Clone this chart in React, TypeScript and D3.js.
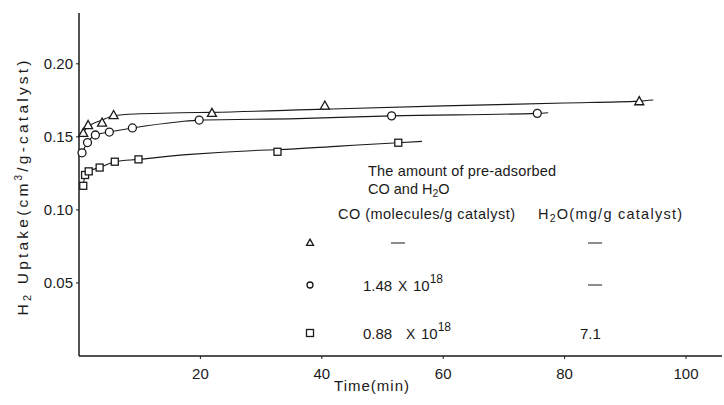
import React from "react";
import * as d3 from "d3";

// ---- data ----
const xTicks = [20, 40, 60, 80, 100];
const yTicks = [0.05, 0.1, 0.15, 0.2];
const yTickLabels = ["0.05", "0.10", "0.15", "0.20"];

// measured points (time min, uptake)
const triT = [0.7, 1.5, 3.8, 5.7, 21.9, 40.5, 92.3];
const triV = [0.1524, 0.1578, 0.1595, 0.1646, 0.1661, 0.1711, 0.1741];
const cirT = [0.5, 1.4, 2.7, 5.0, 8.8, 19.8, 51.5, 75.5];
const cirV = [0.1391, 0.1461, 0.1513, 0.1533, 0.1561, 0.1615, 0.1644, 0.1661];
const sqT = [0.7, 1.0, 1.6, 3.4, 5.9, 9.8, 32.7, 52.6];
const sqV = [0.1165, 0.1239, 0.1264, 0.129, 0.133, 0.1346, 0.1398, 0.146];

// hand-drawn fitted curves
const triCurveT = [0, 0.7, 1.5, 3.8, 5.7, 10, 16.9, 21.9, 40.5, 60, 80, 92.3, 94.6];
const triCurveV = [0.151, 0.1535, 0.157, 0.1615, 0.1645, 0.1658, 0.1665, 0.1668, 0.169, 0.1712, 0.1732, 0.1745, 0.1752];
const cirCurveT = [0.5, 1.4, 2.7, 5, 8.8, 16.6, 19.8, 36, 51.5, 75.5, 77.3];
const cirCurveV = [0.1391, 0.1461, 0.1513, 0.1533, 0.1561, 0.1604, 0.1615, 0.1625, 0.1644, 0.1661, 0.1665];
const sqCurveT = [0.7, 1.0, 1.6, 3.4, 5.9, 9.8, 18.3, 29.8, 32.7, 43, 52.6, 56.5];
const sqCurveV = [0.1165, 0.1239, 0.1264, 0.129, 0.133, 0.1346, 0.138, 0.1408, 0.1412, 0.1437, 0.146, 0.1469];

// legend table
const legendCOmant = ["", "1.48", "0.88"];
const legendCOexp = ["", "18", "18"];
const legendH2O = ["", "", "7.1"];

const FONT = "'Liberation Sans', Arial, sans-serif";
const INK = "#1a1a1a";

function zip(t: number[], v: number[]) {
  return t.map((d, i) => [d, v[i]] as [number, number]);
}

function Marker({ kind, cx, cy, s }: { kind: string; cx: number; cy: number; s: number }) {
  const common = { fill: "white", stroke: INK, strokeWidth: 1.3 };
  if (kind === "tri") {
    const h = s * 0.9;
    const p = `M${cx},${cy - h * 0.62} L${cx + s / 2},${cy + h * 0.38} L${cx - s / 2},${cy + h * 0.38} Z`;
    return <path d={p} {...common} />;
  }
  if (kind === "cir") return <circle cx={cx} cy={cy} r={s / 2} {...common} />;
  return <rect x={cx - s / 2} y={cy - s / 2} width={s} height={s} {...common} />;
}

export default function App() {
  const x = d3.scaleLinear().domain([0, 105]).range([79, 79 + 105 * 6.07]);
  const y = d3.scaleLinear().domain([0, 0.2348]).range([356, 13]);
  const line = d3
    .line<[number, number]>()
    .x((d) => x(d[0]))
    .y((d) => y(d[1]))
    .curve(d3.curveMonotoneX);

  const series = [
    { kind: "tri", t: triT, v: triV, ct: triCurveT, cv: triCurveV, size: 9 },
    { kind: "cir", t: cirT, v: cirV, ct: cirCurveT, cv: cirCurveV, size: 8 },
    { kind: "sqr", t: sqT, v: sqV, ct: sqCurveT, cv: sqCurveV, size: 7 },
  ];

  const rowY = [243, 285, 333];
  const kinds = ["tri", "cir", "sqr"];
  const xOff = [0, 0, 8];

  return (
    <svg
      width={724}
      height={405}
      style={{ position: "absolute", left: 0, top: 0, background: "white" }}
      fontFamily={FONT}
    >
      <rect width={724} height={405} fill="white" />
      {/* axes */}
      <line x1={x(0)} x2={x(0)} y1={13} y2={y(0)} stroke={INK} strokeWidth={1.5} />
      <line x1={x(0)} x2={722} y1={y(0)} y2={y(0)} stroke={INK} strokeWidth={1.5} />
      {xTicks.map((t) => (
        <g key={t}>
          <line x1={x(t)} x2={x(t)} y1={y(0)} y2={y(0) + 3} stroke={INK} strokeWidth={1} />
          <text x={x(t)} y={y(0) + 23} textAnchor="middle" fontSize={15} fill={INK}>
            {t}
          </text>
        </g>
      ))}
      {yTicks.map((v, i) => (
        <g key={v}>
          <line x1={x(0) - 3} x2={x(0)} y1={y(v)} y2={y(v)} stroke={INK} strokeWidth={1} />
          <text x={x(0) - 6} y={y(v) + 5} textAnchor="end" fontSize={15} fill={INK}>
            {yTickLabels[i]}
          </text>
        </g>
      ))}
      {/* axis titles */}
      <text x={372} y={391} textAnchor="middle" fontSize={15} fill={INK} letterSpacing={1}>
        Time(min)
      </text>
      <text
        transform="translate(28,188) rotate(-90)"
        textAnchor="middle"
        fontSize={15.5}
        fill={INK}
        textLength={255}
        lengthAdjust="spacing"
      >
        H<tspan fontSize={11} dy={3}>2</tspan>
        <tspan dy={-3}>{"  "}Uptake(cm</tspan>
        <tspan fontSize={10} dy={-6}>3</tspan>
        <tspan dy={6}>/g-catalyst)</tspan>
      </text>

      {/* curves and markers */}
      {series.map((s) => (
        <g key={s.kind}>
          <path d={line(zip(s.ct, s.cv)) || ""} fill="none" stroke={INK} strokeWidth={1.1} />
          {s.t.map((t, i) => (
            <Marker key={i} kind={s.kind} cx={x(t)} cy={y(s.v[i])} s={s.size} />
          ))}
        </g>
      ))}

      {/* legend */}
      <text x={368} y={176} fontSize={14.5} fill={INK} textLength={188} lengthAdjust="spacing">
        The amount of pre-adsorbed
      </text>
      <text x={368} y={194} fontSize={14.5} fill={INK}>
        CO and H<tspan fontSize={10.5} dy={3}>2</tspan>
        <tspan dy={-3}>O</tspan>
      </text>
      <text x={338} y={219} fontSize={14.5} fill={INK} textLength={177} lengthAdjust="spacing">
        CO (molecules/g catalyst)
      </text>
      <text x={538} y={219} fontSize={14.5} fill={INK} textLength={144} lengthAdjust="spacing">
        H<tspan fontSize={10.5} dy={3}>2</tspan>
        <tspan dy={-3}>O(mg/g catalyst)</tspan>
      </text>
      {kinds.map((k, i) => (
        <g key={k}>
          <Marker kind={k} cx={310} cy={rowY[i]} s={k === "cir" ? 6 : 7} />
          {legendCOmant[i] === "" ? (
            <line x1={391} x2={405} y1={rowY[i]} y2={rowY[i]} stroke={INK} strokeWidth={1} />
          ) : (
            <g>
              <text x={363} y={rowY[i] + 6} fontSize={15} fill={INK}>
                {legendCOmant[i]}
              </text>
              <text x={398 + xOff[i]} y={rowY[i] + 6} fontSize={14} fill={INK}>
                X
              </text>
              <text x={413 + xOff[i]} y={rowY[i] + 6} fontSize={15} fill={INK}>
                10
                <tspan fontSize={12} dy={-8}>
                  {legendCOexp[i]}
                </tspan>
              </text>
            </g>
          )}
          {legendH2O[i] === "" ? (
            <line x1={588} x2={602} y1={rowY[i]} y2={rowY[i]} stroke={INK} strokeWidth={1} />
          ) : (
            <text x={580} y={rowY[i] + 6} fontSize={15} fill={INK}>
              {legendH2O[i]}
            </text>
          )}
        </g>
      ))}
    </svg>
  );
}
